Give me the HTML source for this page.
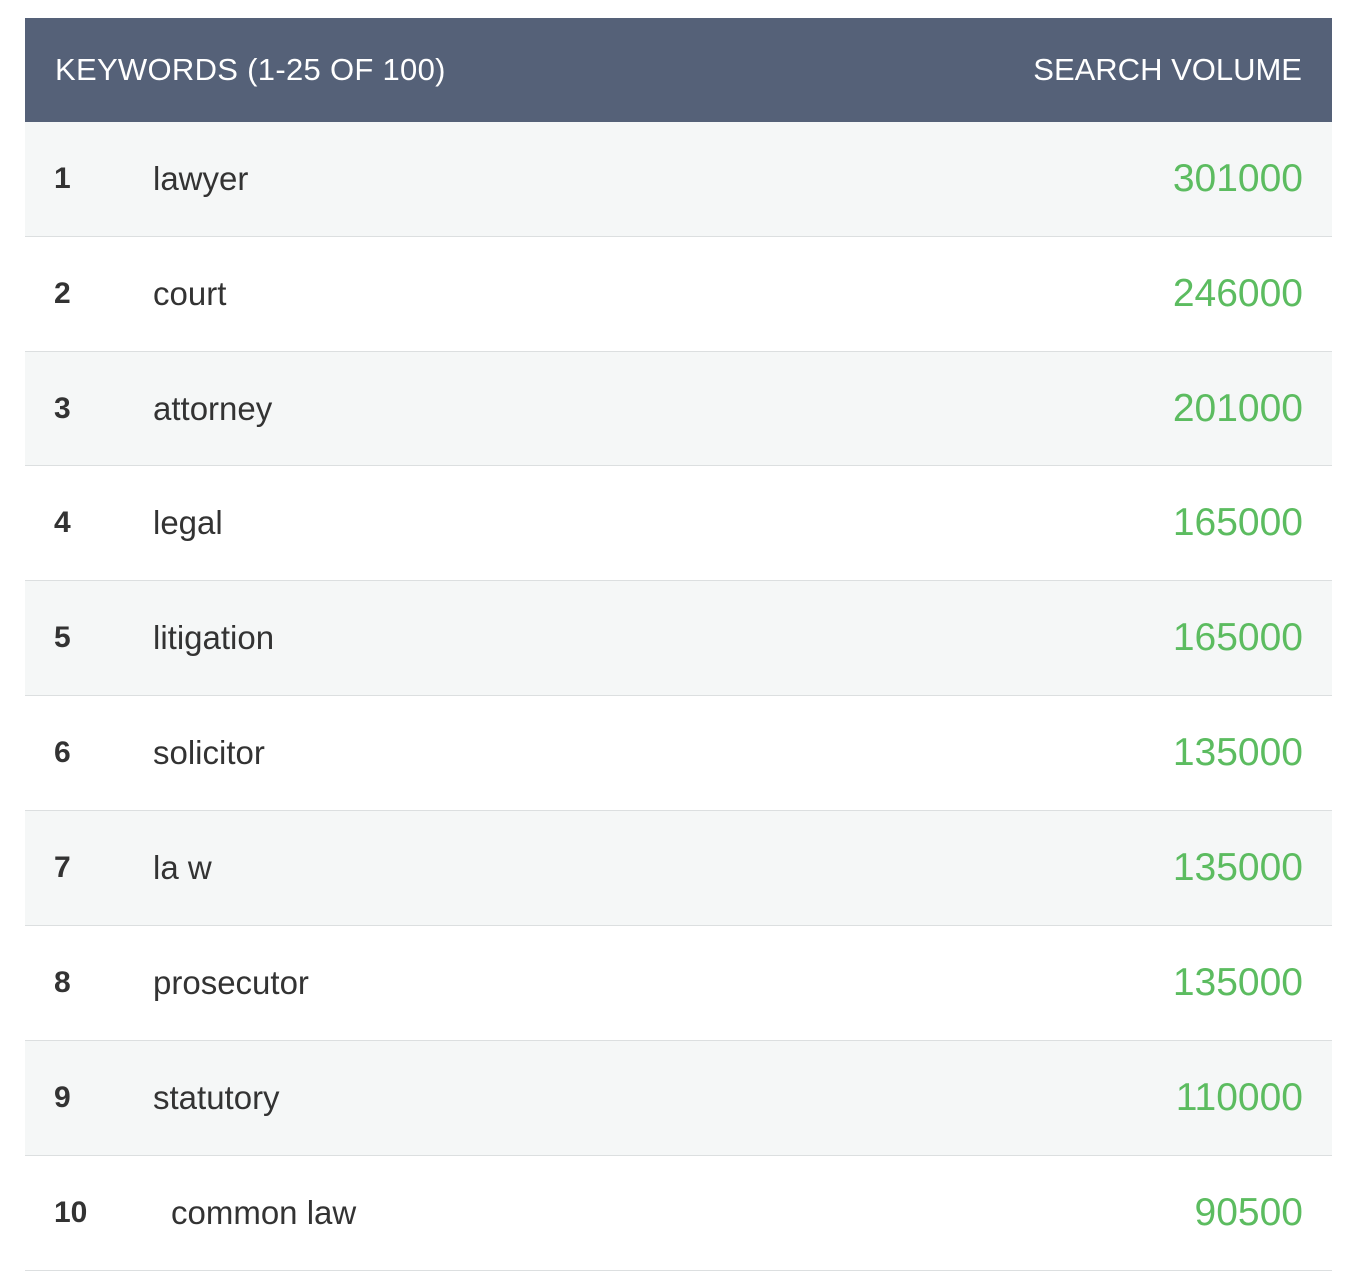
<!DOCTYPE html>
<html><head><style>
body{margin:0;background:#fff;width:1362px;height:1272px;position:relative;font-family:"Liberation Sans",sans-serif;overflow:hidden}
.hd{position:absolute;left:25px;top:18px;width:1307px;height:104px;background:#556178;color:#fff;font-size:31px}
.hd span{position:absolute;top:50%;transform:translateY(-50%);letter-spacing:0px}
.r{position:absolute;left:25px;width:1307px;border-bottom:1px solid #dcdfe0;color:#333}
.r span{position:absolute;top:50%;transform:translateY(-50%)}
.n{left:29px;font-weight:bold;font-size:30px}
.k{left:128px;font-size:33px}
.v{right:29px;color:#5cbc60;font-size:39px}
</style></head><body>
<div class="hd"><span style="left:30px;letter-spacing:0.3px">KEYWORDS (1-25 OF 100)</span><span style="right:30px">SEARCH VOLUME</span></div>
<div class="r" style="top:122px;height:114px;background:#f5f7f7"><span class="n">1</span><span class="k">lawyer</span><span class="v">301000</span></div>
<div class="r" style="top:237px;height:114px"><span class="n">2</span><span class="k">court</span><span class="v">246000</span></div>
<div class="r" style="top:352px;height:113px;background:#f5f7f7"><span class="n">3</span><span class="k">attorney</span><span class="v">201000</span></div>
<div class="r" style="top:466px;height:114px"><span class="n">4</span><span class="k">legal</span><span class="v">165000</span></div>
<div class="r" style="top:581px;height:114px;background:#f5f7f7"><span class="n">5</span><span class="k">litigation</span><span class="v">165000</span></div>
<div class="r" style="top:696px;height:114px"><span class="n">6</span><span class="k">solicitor</span><span class="v">135000</span></div>
<div class="r" style="top:811px;height:114px;background:#f5f7f7"><span class="n">7</span><span class="k">la w</span><span class="v">135000</span></div>
<div class="r" style="top:926px;height:114px"><span class="n">8</span><span class="k">prosecutor</span><span class="v">135000</span></div>
<div class="r" style="top:1041px;height:114px;background:#f5f7f7"><span class="n">9</span><span class="k">statutory</span><span class="v">110000</span></div>
<div class="r" style="top:1156px;height:114px"><span class="n">10</span><span class="k" style="left:146px">common law</span><span class="v">90500</span></div>
</body></html>
